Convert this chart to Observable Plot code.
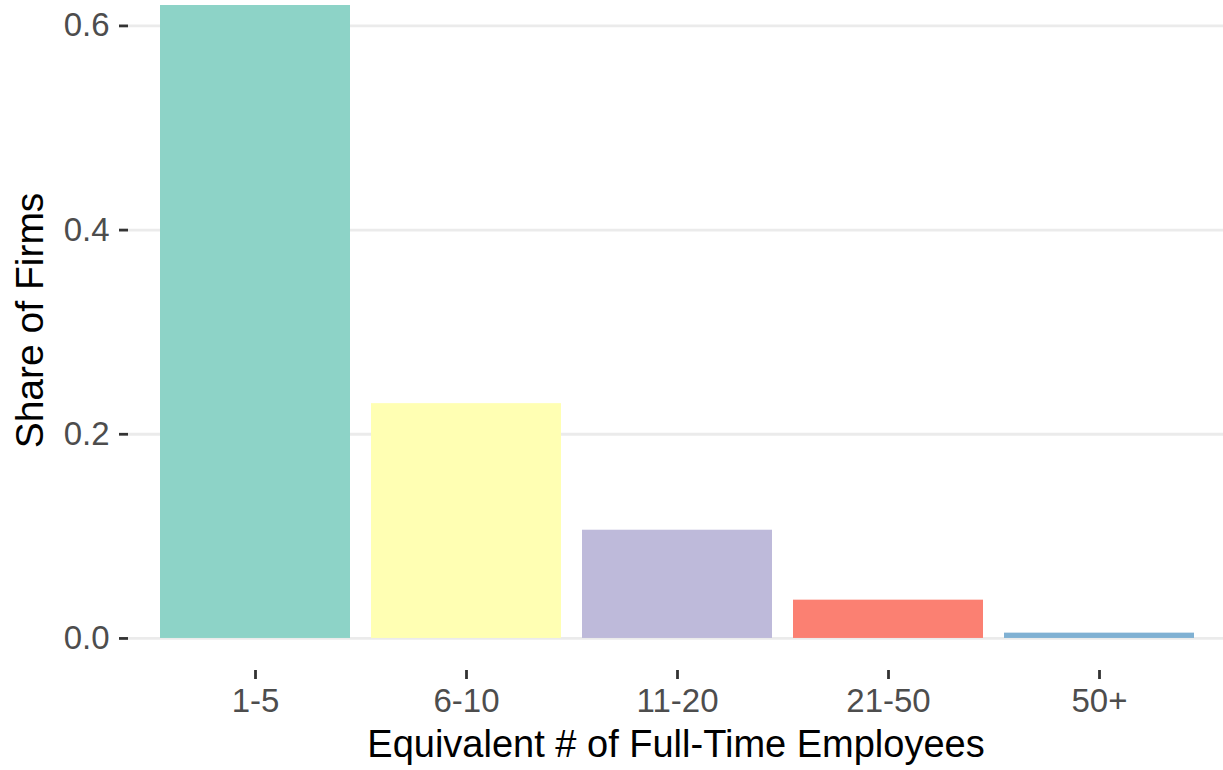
<!DOCTYPE html>
<html>
<head>
<meta charset="utf-8">
<script src="https://cdn.jsdelivr.net/npm/d3@7"></script>
<script src="https://cdn.jsdelivr.net/npm/@observablehq/plot@0.6"></script>
<style>
  html, body { margin: 0; padding: 0; background: #ffffff; }
  #chart svg { display: block; }
</style>
</head>
<body>
<div id="chart"></div>
<script>
// ---- data ----
const categories = ["1-5", "6-10", "11-20", "21-50", "50+"];
const shares = [0.620, 0.230, 0.106, 0.0375, 0.0052];
const barColors = ["#8DD3C7", "#FFFFB3", "#BEBADA", "#FB8072", "#80B1D3"];
const yTicks = [0, 0.2, 0.4, 0.6];
const xTitle = "Equivalent # of Full-Time Employees";
const yTitle = "Share of Firms";

const rows = categories.map((c, i) => ({category: c, share: shares[i]}));

const chart = Plot.plot({
  width: 1223,
  height: 770,
  marginLeft: 128,
  marginRight: 0,
  marginTop: 5,
  marginBottom: 100,
  style: {
    fontFamily: "'Liberation Sans', Arial, Helvetica, sans-serif",
    background: "#ffffff",
    overflow: "visible"
  },
  x: {
    domain: categories,
    range: [128, 1226],
    paddingInner: 0.1,
    paddingOuter: 0.15,
    label: null
  },
  y: {
    domain: [-0.0314, 0.62],
    label: null
  },
  color: {domain: categories, range: barColors},
  marks: [
    Plot.ruleY(yTicks, {stroke: "#EBEBEB", strokeWidth: 2.8}),
    Plot.barY(rows, {x: "category", y: "share", fill: "category"}),
    Plot.axisY(yTicks, {
      tickSize: 9, tickPadding: 10, fontSize: 33,
      stroke: "#333333", strokeWidth: 2.8, fill: "#4D4D4D",
      tickFormat: d3.format(".1f"), label: null
    }),
    Plot.axisX({
      tickSize: 9, tickPadding: 9, fontSize: 33,
      stroke: "#333333", strokeWidth: 2.8, fill: "#4D4D4D", label: null
    }),
    Plot.text([xTitle], {
      frameAnchor: "bottom", dy: 74, fontSize: 38, fill: "#000000",
      lineAnchor: "middle", textAnchor: "middle"
    }),
    Plot.text([yTitle], {
      frameAnchor: "left", dx: -98, dy: -17.5, rotate: -90, fontSize: 39,
      fill: "#000000", lineAnchor: "middle", textAnchor: "middle"
    })
  ]
});

document.getElementById("chart").appendChild(chart);
</script>
</body>
</html>
